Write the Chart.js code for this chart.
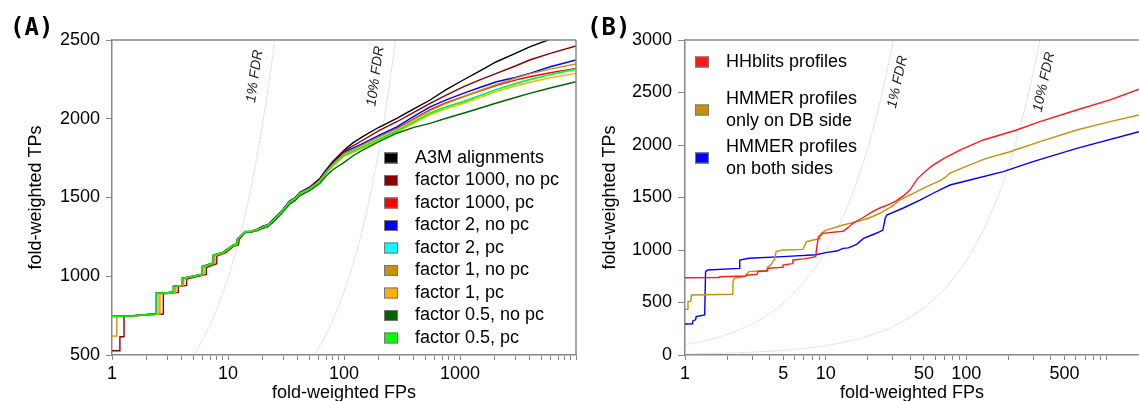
<!DOCTYPE html>
<html>
<head>
<meta charset="utf-8">
<script src="https://cdn.jsdelivr.net/npm/chart.js@4"></script>
<style>
  html, body { margin: 0; padding: 0; background: #fff; }
  #wrap { position: relative; width: 1139px; height: 401px; overflow: hidden; }
  canvas { position: absolute; top: 0; }
  #chartA { left: 0; }
  #chartB { left: 580px; }
  .panel { position: absolute; top: 15px; font: bold 24px "DejaVu Sans Mono", monospace; line-height: 24px; color: #000; }
</style>
</head>
<body>
<div id="wrap">
  <canvas id="chartA" width="580" height="401"></canvas>
  <canvas id="chartB" width="559" height="401"></canvas>
  <div class="panel" style="left:10px">(A)</div>
  <div class="panel" style="left:587px">(B)</div>
</div>
<script>
// ---------- Panel A: fold-weighted TPs vs FPs, [FP, TP] pairs ----------
const a3mAlignments = [[1,745],[1.5,748],[1.85,755],[2.38,760],[2.38,890],[3.0,895],[3.4,898],[3.4,937],[4.0,942],[4.0,986],[5.0,1000],[5.95,1012],[5.95,1060],[7.0,1076],[7.5,1084],[7.5,1133],[9.0,1150],[11.0,1196],[11.9,1204],[12.1,1238],[14,1284],[15.5,1286],[17.6,1296],[20,1318],[22,1327],[24.6,1362],[29,1415],[34,1478],[38,1500],[41.7,1533],[51,1568],[62,1622],[70,1675],[80,1728],[100,1800],[120,1848],[146,1888],[200,1946],[285,2003],[400,2062],[552,2119],[760,2185],[1066,2246],[1500,2305],[2063,2362],[3000,2415],[3992,2457],[6000,2505],[10000,2558]];
const f1000NoPc = [[1,527],[1.17,527],[1.17,616],[1.27,616],[1.27,745],[1.85,752],[2.5,758],[2.77,760],[2.77,888],[3.3,893],[3.73,897],[3.73,935],[4.4,942],[4.4,982],[6.0,1006],[6.5,1012],[6.5,1055],[7.5,1072],[8.0,1080],[8.0,1128],[9.5,1148],[11.2,1190],[12.3,1200],[12.5,1233],[14,1278],[15.5,1280],[17.6,1290],[19,1300],[20,1309],[22,1318],[24.6,1360],[29,1412],[34,1476],[38,1498],[41.7,1530],[51,1565],[62,1618],[70,1672],[80,1724],[100,1795],[146,1865],[200,1925],[285,1981],[400,2040],[552,2098],[760,2150],[1066,2203],[1500,2248],[2063,2288],[3000,2335],[3992,2373],[6000,2415],[10000,2462]];
const f1000Pc = [[1,745],[1.5,748],[1.85,755],[2.42,760],[2.42,890],[3.0,895],[3.45,898],[3.45,937],[4.05,942],[4.05,985],[5.0,1000],[6.0,1012],[6.0,1058],[7.0,1075],[7.6,1084],[7.6,1131],[9.0,1148],[11.0,1194],[11.9,1203],[12.2,1236],[14,1281],[15.5,1278],[17.6,1290],[20,1312],[22,1320],[24.6,1356],[29,1409],[34,1472],[38,1494],[41.7,1528],[51,1560],[62,1612],[70,1663],[80,1714],[100,1782],[146,1838],[200,1888],[285,1939],[400,2000],[552,2058],[760,2102],[1066,2140],[1500,2178],[2063,2212],[3000,2245],[3992,2267],[6000,2292],[10000,2320]];
const f2NoPc = [[1,745],[1.5,748],[1.85,755],[2.4,760],[2.4,890],[3.0,895],[3.4,898],[3.4,937],[4.0,942],[4.0,986],[5.0,1000],[5.95,1012],[5.95,1060],[7.0,1076],[7.5,1084],[7.5,1133],[9.0,1150],[11.0,1196],[11.9,1204],[12.1,1237],[14,1282],[15.5,1284],[17.6,1294],[20,1315],[22,1324],[24.6,1358],[29,1411],[34,1474],[38,1497],[41.7,1530],[51,1562],[62,1615],[70,1666],[80,1718],[100,1786],[146,1844],[200,1895],[285,1949],[400,2015],[552,2076],[760,2120],[1066,2161],[1500,2200],[2063,2235],[3000,2262],[3992,2288],[6000,2330],[10000,2373]];
const f2Pc = [[1,745],[1.5,748],[1.85,755],[2.4,761],[2.4,891],[3.0,895],[3.4,898],[3.4,937],[4.0,942],[4.0,986],[5.0,1000],[5.95,1012],[5.95,1060],[7.0,1077],[7.5,1084],[7.5,1134],[9.0,1151],[11.0,1197],[11.8,1204],[12.1,1236],[14,1281],[15.5,1284],[17.6,1292],[20,1312],[22,1322],[24.6,1356],[29,1409],[34,1471],[38,1494],[41.7,1526],[51,1557],[62,1607],[70,1657],[80,1707],[100,1770],[146,1824],[200,1872],[285,1924],[400,1982],[552,2037],[760,2077],[1066,2110],[1500,2150],[2063,2187],[3000,2224],[3992,2250],[6000,2282],[10000,2316]];
const f1NoPc = [[1,620],[1.1,620],[1.1,745],[1.85,753],[2.59,760],[2.59,888],[3.2,894],[3.55,897],[3.55,936],[4.15,942],[4.15,985],[5.5,1005],[6.2,1012],[6.2,1056],[7.2,1076],[7.7,1082],[7.7,1130],[9.2,1148],[11.0,1192],[12.0,1202],[12.3,1234],[14,1280],[15.5,1282],[17.6,1291],[20,1311],[22,1321],[24.6,1355],[29,1408],[34,1471],[38,1494],[41.7,1527],[51,1559],[62,1610],[70,1660],[80,1711],[100,1779],[146,1836],[200,1885],[285,1935],[400,1995],[552,2052],[760,2098],[1066,2138],[1500,2180],[2063,2218],[3000,2258],[3992,2285],[6000,2315],[10000,2348]];
const f1Pc = [[1,745],[1.5,748],[1.85,755],[2.5,760],[2.5,889],[3.1,895],[3.45,898],[3.45,936],[4.05,942],[4.05,985],[5.2,1002],[6.05,1012],[6.05,1058],[7.0,1075],[7.55,1083],[7.55,1132],[9.0,1149],[11.0,1195],[11.9,1203],[12.1,1236],[14,1280],[15.5,1283],[17.6,1292],[20,1312],[22,1322],[24.6,1355],[29,1407],[34,1468],[38,1491],[41.7,1523],[51,1554],[62,1603],[70,1652],[80,1700],[100,1762],[146,1815],[200,1862],[285,1915],[400,1972],[552,2026],[760,2065],[1066,2097],[1500,2136],[2063,2172],[3000,2208],[3992,2232],[6000,2260],[10000,2288]];
const f05NoPc = [[1,745],[1.5,749],[1.85,756],[2.38,762],[2.38,892],[3.0,896],[3.38,898],[3.38,938],[3.99,942],[3.99,987],[5.0,1001],[5.93,1012],[5.93,1062],[7.0,1078],[7.45,1085],[7.45,1135],[9.0,1152],[11.0,1198],[11.8,1205],[12.0,1234],[14,1277],[15.5,1282],[17.6,1288],[20,1305],[22,1314],[24.6,1345],[29,1398],[34,1458],[38,1482],[41.7,1512],[51,1545],[62,1590],[70,1636],[80,1676],[98,1718],[120,1765],[146,1802],[200,1855],[285,1908],[400,1945],[552,1971],[760,2003],[1066,2035],[1500,2068],[2063,2100],[3000,2135],[3992,2161],[6000,2195],[10000,2235]];
const f05Pc = [[1,745],[1.5,748],[1.85,755],[2.38,761],[2.38,891],[3.0,895],[3.38,898],[3.38,937],[3.99,942],[3.99,986],[5.0,1000],[5.95,1012],[5.95,1060],[7.0,1077],[7.45,1084],[7.45,1134],[9.0,1151],[11.0,1197],[11.8,1204],[12.1,1236],[14,1281],[15.5,1284],[17.6,1292],[20,1312],[22,1322],[24.6,1355],[29,1408],[34,1470],[38,1493],[41.7,1525],[51,1556],[62,1606],[70,1655],[80,1705],[100,1768],[146,1822],[200,1870],[285,1922],[400,1980],[552,2035],[760,2075],[1066,2108],[1500,2148],[2063,2185],[3000,2222],[3992,2248],[6000,2280],[10000,2314]];

const seriesNamesA = ['A3M alignments','factor 1000, no pc','factor 1000, pc','factor 2, no pc','factor 2, pc','factor 1, no pc','factor 1, pc','factor 0.5, no pc','factor 0.5, pc'];
const seriesDataA = [a3mAlignments, f1000NoPc, f1000Pc, f2NoPc, f2Pc, f1NoPc, f1Pc, f05NoPc, f05Pc];
const seriesColorsA = ['#000000','#8b0000','#ff0000','#0000ff','#00ffff','#c8900c','#ffb000','#006400','#00ff00'];

// ---------- Panel B ----------
const hhblitsProfiles = [[1,736],[1.75,738],[1.76,745],[2.7,752],[2.72,760],[3.25,768],[3.3,795],[3.85,800],[3.9,826],[4.9,835],[4.97,857],[5.8,870],[5.85,905],[7,915],[8.5,937],[8.57,984],[8.7,1048],[8.9,1127],[9.6,1159],[11,1168],[13.3,1178],[14.5,1215],[15.7,1257],[18,1300],[21.7,1367],[24.3,1400],[28,1432],[32,1470],[36,1520],[39.7,1571],[45,1680],[52.4,1762],[58.3,1810],[70,1875],[90,1952],[132,2048],[228,2143],[334,2222],[610,2333],[1052,2429],[1690,2532]];
const hmmerDbSide = [[1,435],[1.04,435],[1.05,508],[1.1,512],[1.11,571],[2.18,578],[2.19,698],[2.25,730],[2.7,750],[2.72,762],[2.8,780],[2.85,794],[3.8,805],[3.89,841],[4.1,860],[4.2,889],[4.3,905],[4.34,921],[4.45,984],[4.97,1000],[6.9,1006],[7.3,1079],[9.0,1110],[9.1,1127],[9.3,1159],[10.1,1190],[13.3,1238],[16.6,1270],[20,1300],[24.3,1350],[30,1420],[33.6,1476],[40,1525],[52.4,1603],[65,1660],[72,1698],[76,1730],[106,1810],[139,1873],[204,1936],[334,2032],[610,2143],[1052,2222],[1690,2286]];
const hmmerBothSides = [[1,295],[1.13,298],[1.14,327],[1.19,335],[1.2,365],[1.38,381],[1.4,794],[1.45,810],[2.44,825],[2.45,905],[2.85,921],[4.97,937],[8.57,955],[10,975],[12,990],[13.3,1016],[14.5,1020],[16.6,1054],[18.6,1111],[22,1150],[24.3,1175],[25.5,1190],[26.5,1300],[27.2,1333],[35.7,1400],[46.8,1476],[60,1550],[76.5,1619],[106,1667],[183,1746],[298,1841],[610,1968],[1690,2127]];

const seriesNamesB = ['HHblits profiles','HMMER profiles\nonly on DB side','HMMER profiles\non both sides'];
const seriesDataB = [hhblitsProfiles, hmmerDbSide, hmmerBothSides];
const seriesColorsB = ['#ff1a1a','#c8900c','#0000ff'];

// ---------- axes ----------
const xLabeledA = [1, 10, 100, 1000];
const xLabeledB = [1, 5, 10, 50, 100, 500];
const yTicksA = [500, 1000, 1500, 2000, 2500];
const yTicksB = [0, 500, 1000, 1500, 2000, 2500, 3000];
const fdrLevels = [0.01, 0.1];

const FONT = '"Liberation Sans", Arial, sans-serif';
const AXIS_GREY = '#888888';

// minor + major ticks of a log axis: 1..9 x each decade up to max
function decadeTicks(max) {
  const t = [];
  for (let d = 1; d <= max; d *= 10)
    for (let m = 1; m < 10; m++) if (m * d <= max) t.push(m * d);
  return t;
}

// frame along the top (and optionally the right) of the plot area
const framePlugin = {
  id: 'frame',
  afterDatasetsDraw(chart, args, opts) {
    const { ctx, chartArea: a } = chart;
    ctx.save();
    ctx.strokeStyle = AXIS_GREY;
    ctx.lineWidth = 1.5;
    ctx.beginPath();
    ctx.moveTo(a.left, a.top);
    ctx.lineTo(a.right, a.top);
    if (opts.right) { ctx.moveTo(a.right, a.top); ctx.lineTo(a.right, a.bottom); }
    ctx.stroke();
    ctx.restore();
  }
};

// iso-FDR guide curves: TP = FP * (1 - f) / f, with rotated captions
const fdrPlugin = {
  id: 'fdr',
  beforeDatasetsDraw(chart, args, opts) {
    const { ctx, chartArea: a, scales: { x, y } } = chart;
    const lo = Math.log10(x.min), hi = Math.log10(x.max);
    ctx.save();
    ctx.beginPath();
    ctx.rect(a.left, a.top, a.right - a.left, a.bottom - a.top);
    ctx.clip();
    ctx.strokeStyle = '#bdbdbd';
    ctx.lineWidth = 0.7;
    ctx.setLineDash([1.5, 1]);
    fdrLevels.forEach(f => {
      ctx.beginPath();
      for (let i = 0; i <= 400; i++) {
        const fp = Math.pow(10, lo + (hi - lo) * i / 400);
        const px = x.getPixelForValue(fp), py = y.getPixelForValue(fp * (1 - f) / f);
        if (i === 0) ctx.moveTo(px, py); else ctx.lineTo(px, py);
      }
      ctx.stroke();
    });
    ctx.restore();

    ctx.save();
    ctx.fillStyle = '#222';
    ctx.font = 'italic 14px ' + FONT;
    ctx.textAlign = 'center';
    ctx.textBaseline = 'middle';
    fdrLevels.forEach(f => {
      const tp = opts.captionTP;
      const fp = tp * f / (1 - f);
      const px = x.getPixelForValue(fp), py = y.getPixelForValue(tp);
      const fp2 = fp * 1.05;
      const px2 = x.getPixelForValue(fp2), py2 = y.getPixelForValue(fp2 * (1 - f) / f);
      const ang = Math.atan2(py2 - py, px2 - px);
      ctx.save();
      ctx.translate(px + opts.dx, py);
      ctx.rotate(ang);
      ctx.fillText(Math.round(f * 100) + '% FDR', 0, 0);
      ctx.restore();
    });
    ctx.restore();
  }
};

// legend of filled swatches drawn inside the plot area
const swatchLegend = {
  id: 'swatchLegend',
  afterDatasetsDraw(chart, args, opts) {
    const { ctx, chartArea: a } = chart;
    ctx.save();
    ctx.font = '18px ' + FONT;
    ctx.textBaseline = 'middle';
    ctx.textAlign = 'left';
    chart.data.datasets.forEach((ds, i) => {
      const cy = a.top + opts.top + i * opts.step;
      const bx = a.left + opts.left;
      ctx.fillStyle = ds.borderColor;
      ctx.fillRect(bx, cy - 5.5, 14, 11);
      ctx.strokeStyle = '#777';
      ctx.lineWidth = 1;
      ctx.strokeRect(bx + 0.5, cy - 5, 13, 10);
      ctx.fillStyle = '#000';
      const lines = ds.label.split('\n');
      lines.forEach((t, k) => ctx.fillText(t, bx + 31, cy + (k - (lines.length - 1) / 2) * opts.lineH));
    });
    ctx.restore();
  }
};

function buildChart(canvasId, p) {
  const datasets = p.data.map((arr, i) => ({
    label: p.names[i],
    data: arr.map(([fp, tp]) => ({ x: fp, y: tp })),
    borderColor: p.colors[i],
    backgroundColor: p.colors[i],
    borderWidth: 1.4,
    pointRadius: 0,
    fill: false,
    tension: 0,
    order: p.topLast ? p.data.length - i : i
  }));
  const xTickValues = decadeTicks(p.xMax);
  return new Chart(document.getElementById(canvasId), {
    type: 'line',
    data: { datasets },
    plugins: [framePlugin, fdrPlugin, swatchLegend],
    options: {
      responsive: false,
      animation: false,
      events: [],
      layout: { padding: { top: 40, right: p.padRight, bottom: 0, left: 0 } },
      plugins: {
        legend: { display: false },
        tooltip: { enabled: false },
        frame: { right: p.frameRight },
        fdr: p.fdr,
        swatchLegend: p.legend
      },
      scales: {
        x: {
          type: 'logarithmic',
          min: 1,
          max: p.xMax,
          afterBuildTicks: s => { s.ticks = xTickValues.map(v => ({ value: v })); },
          afterFit: s => { s.height = 46; },
          ticks: {
            autoSkip: false, maxRotation: 0, minRotation: 0, padding: 3,
            color: '#000', font: { family: FONT, size: 18 },
            callback: v => p.xLabeled.includes(v) ? String(v) : ''
          },
          grid: { drawOnChartArea: false, drawTicks: true, tickLength: 5, color: AXIS_GREY },
          border: { display: true, color: AXIS_GREY, width: 1.5 },
          title: { display: true, text: 'fold-weighted FPs', color: '#000',
                   font: { family: FONT, size: 18, lineHeight: 0.86 }, padding: 0 }
        },
        y: {
          type: 'linear',
          min: p.yTicks[0],
          max: p.yTicks[p.yTicks.length - 1],
          afterBuildTicks: s => { s.ticks = p.yTicks.map(v => ({ value: v })); },
          afterFit: s => { s.width = p.yWidth; },
          ticks: { padding: 6, color: '#000', font: { family: FONT, size: 18 },
                   callback: v => String(v) },
          grid: { drawOnChartArea: false, drawTicks: true, tickLength: p.yTickLen, color: AXIS_GREY },
          border: { display: true, color: AXIS_GREY, width: 1.5 },
          title: { display: true, text: 'fold-weighted TPs', color: '#000',
                   font: { family: FONT, size: 18 }, padding: { top: p.yTitlePad, bottom: 0 } }
        }
      }
    }
  });
}

buildChart('chartA', {
  names: seriesNamesA, data: seriesDataA, colors: seriesColorsA, topLast: true,
  xMax: 10000, xLabeled: xLabeledA, yTicks: yTicksA,
  yWidth: 112, yTickLen: 6, yTitlePad: 25, padRight: 4, frameRight: true,
  fdr: { captionTP: 2270, dx: -15 },
  legend: { left: 272, top: 118, step: 22.5, lineH: 22 }
});

buildChart('chartB', {
  names: seriesNamesB, data: seriesDataB, colors: seriesColorsB, topLast: false,
  xMax: 1690, xLabeled: xLabeledB, yTicks: yTicksB,
  yWidth: 105, yTickLen: 7, yTitlePad: 19, padRight: 0, frameRight: false,
  fdr: { captionTP: 2600, dx: 13 },
  legend: { left: 10, top: 22, step: 48, lineH: 22.5 }
});
</script>
</body>
</html>
